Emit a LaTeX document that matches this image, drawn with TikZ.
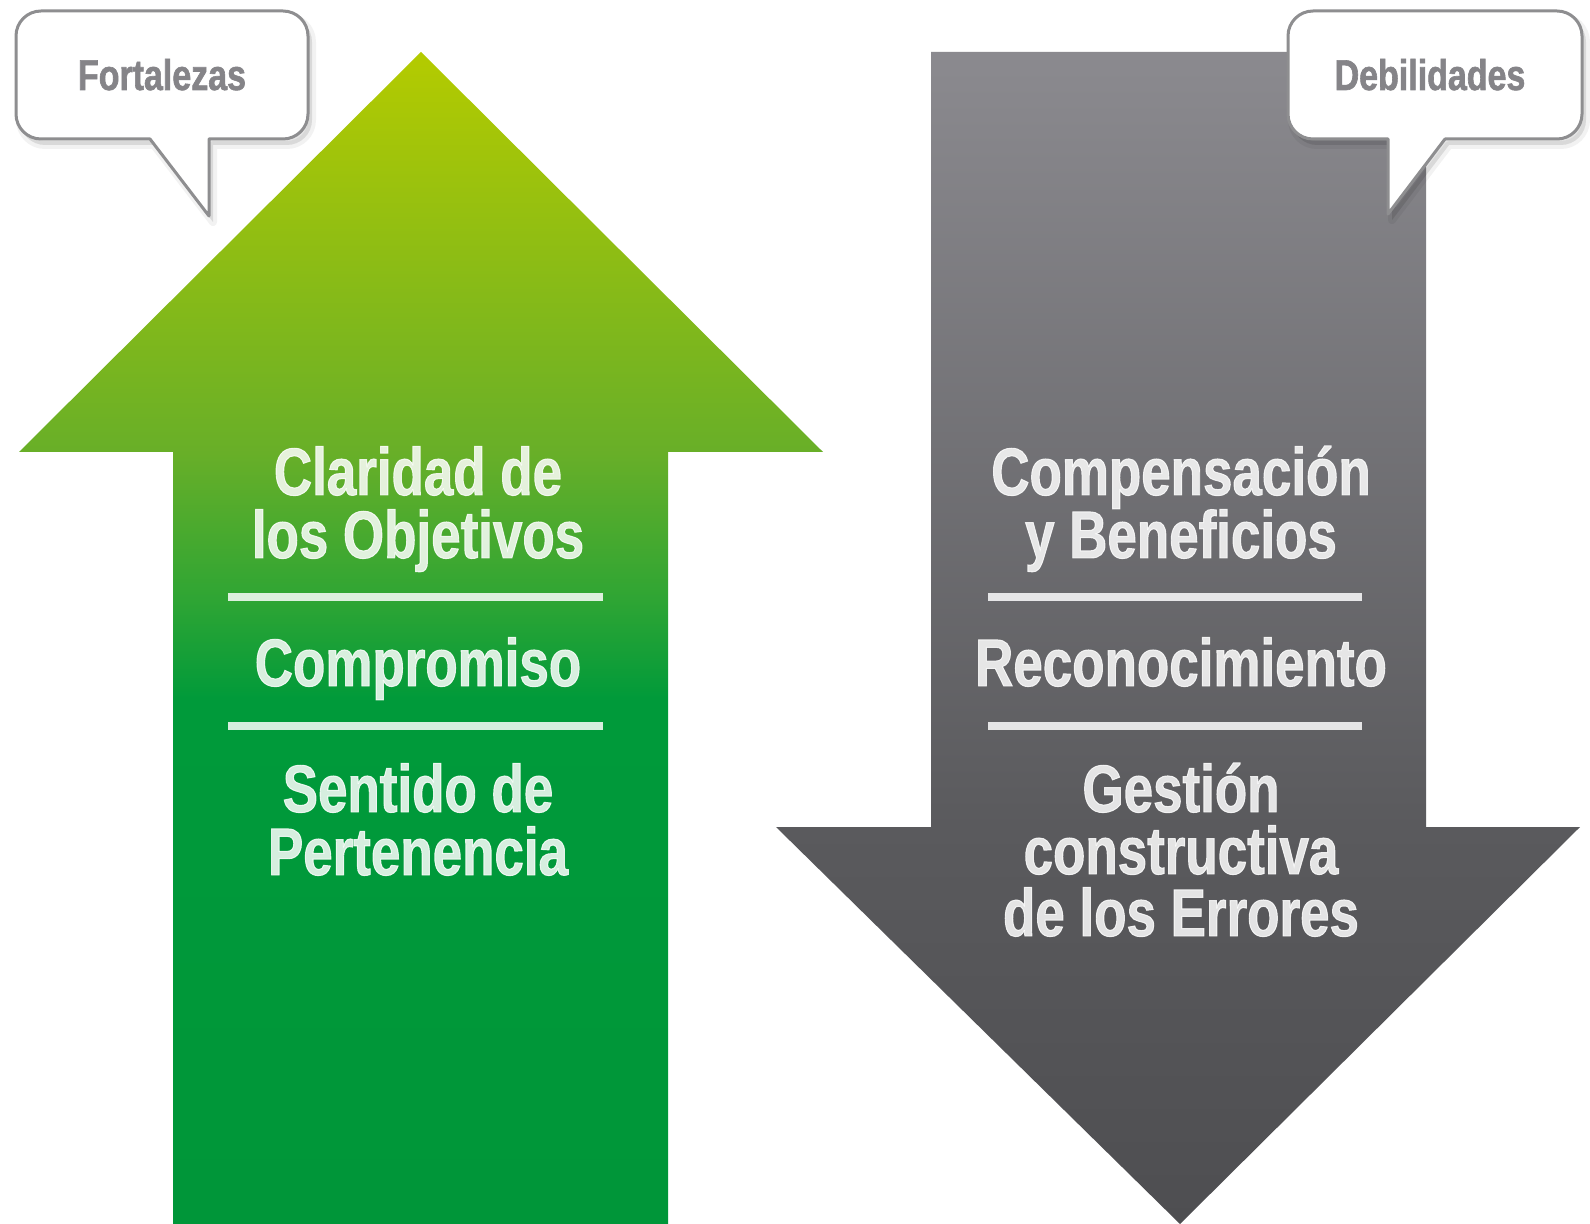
\documentclass[tikz,border=0pt]{standalone}
\usepackage{fontspec}
\newfontfamily\cond[FakeStretch=0.79, BoldFeatures={FakeBold=1.4}]{Liberation Sans}
\definecolor{g0}{HTML}{009639}
\definecolor{g1}{HTML}{009A3A}
\definecolor{g2}{HTML}{2EA534}
\definecolor{g3}{HTML}{68AF28}
\definecolor{g4}{HTML}{B4CB00}
\definecolor{k0}{HTML}{4E4E51}
\definecolor{k1}{HTML}{5A5A5D}
\definecolor{k2}{HTML}{8B8A8F}
\definecolor{calltext}{HTML}{858488}
\definecolor{callline}{HTML}{8E8E90}
\pgfdeclareverticalshading{greensh}{100bp}{color(0bp)=(g0); color(25bp)=(g0); color(47.35bp)=(g1); color(51.6bp)=(g2); color(57.9bp)=(g3); color(75bp)=(g4); color(100bp)=(g4)}
\pgfdeclareverticalshading{graysh}{100bp}{color(0bp)=(k0); color(25bp)=(k0); color(41.94bp)=(k1); color(75bp)=(k2); color(100bp)=(k2)}
\newcommand\fortpath{(41,11) -- (283,11) arc[start angle=90,end angle=0,radius=12.5pt] -- (308,114) arc[start angle=0,end angle=-90,radius=12.5pt] -- (209,139) -- (209,216) -- (150,139) -- (41,139) arc[start angle=270,end angle=180,radius=12.5pt] -- (16,36) arc[start angle=180,end angle=90,radius=12.5pt] -- cycle}
\newcommand\debpath{(1313,11) -- (1557,11) arc[start angle=90,end angle=0,radius=12.5pt] -- (1582,114) arc[start angle=0,end angle=-90,radius=12.5pt] -- (1445,139) -- (1388,214) -- (1388,139) -- (1313,139) arc[start angle=270,end angle=180,radius=12.5pt] -- (1288,36) arc[start angle=180,end angle=90,radius=12.5pt] -- cycle}
\tikzset{
  bigtxt/.style={font=\cond\bfseries\fontsize{33.5}{31}\selectfont, text=white, text opacity=0.84, anchor=base, inner sep=0pt},
  smalltxt/.style={font=\cond\bfseries\fontsize{21.5}{24}\selectfont, text=calltext, anchor=base, inner sep=0pt},
  sepline/.style={draw=white, draw opacity=0.84, line width=4pt},
  callbox/.style={fill=white, draw=callline, line width=1.5pt, line join=round},
  shadowsoft/.style={fill=black, fill opacity=0.10, draw=black, draw opacity=0.05, line width=4pt, line join=round},
}
\begin{document}
\begin{tikzpicture}[x=0.5pt,y=-0.5pt]
\fill[white] (0,0) rectangle (1590,1224);
\useasboundingbox (0,0) rectangle (1590,1224);
% arrows
\shade[shading=greensh] (421,52) -- (823,452) -- (668,452) -- (668,1224) -- (173,1224) -- (173,452) -- (19,452) -- cycle;
\shade[shading=graysh] (931,52) -- (1426,52) -- (1426,827) -- (1580,827) -- (1180,1224) -- (776,827) -- (931,827) -- cycle;
% green texts
\node[bigtxt] (ga1) at (418,495) {Claridad de};
\node[bigtxt] (ga2) at (418,558) {los Objetivos};
\draw[sepline] (228,597) -- (603,597);
\node[bigtxt] (gb1) at (418,686) {Compromiso};
\draw[sepline] (228,726) -- (603,726);
\node[bigtxt] (gc1) at (418,812) {Sentido de};
\node[bigtxt] (gc2) at (418,875) {Pertenencia};
% gray texts
\node[bigtxt] (ka1) at (1181,495) {Compensación};
\node[bigtxt] (ka2) at (1181,558) {y Beneficios};
\draw[sepline] (988,597) -- (1362,597);
\node[bigtxt] (kb1) at (1181,686) {Reconocimiento};
\draw[sepline] (988,726) -- (1362,726);
\node[bigtxt] (kc1) at (1181,812) {Gestión};
\node[bigtxt] (kc2) at (1181,874) {constructiva};
\node[bigtxt] (kc3) at (1181,936) {de los Errores};
% callouts
\begin{scope}[shift={(4,6)}]
\path[shadowsoft] \fortpath;
\path[shadowsoft] \debpath;
\end{scope}
\path[callbox] \fortpath;
\path[callbox] \debpath;
\node[smalltxt] (fort) at (162,90) {Fortalezas};
\node[smalltxt] (deb) at (1430,90) {Debilidades};
\end{tikzpicture}
\end{document}
